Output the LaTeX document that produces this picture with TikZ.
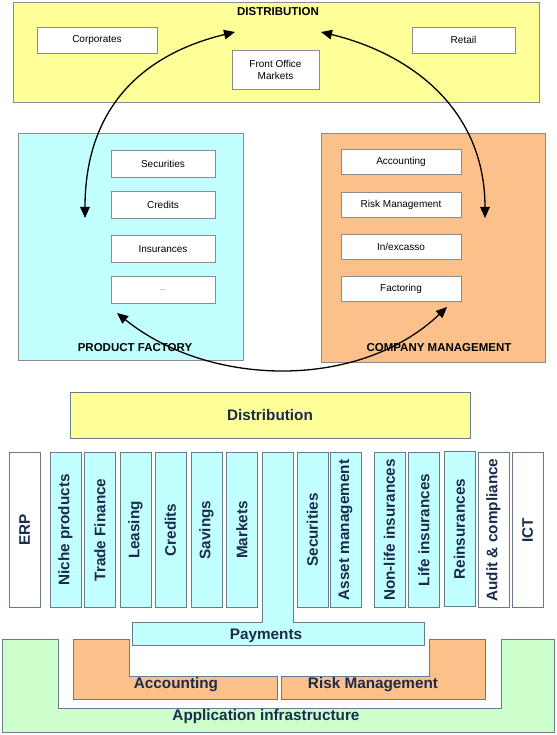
\documentclass[tikz,border=0pt]{standalone}
\usepackage{fontspec}
\setmainfont{Liberation Sans}
\usetikzlibrary{arrows.meta}
\definecolor{yel}{HTML}{FFFF99}
\definecolor{cya}{HTML}{C2FFFF}
\definecolor{ora}{HTML}{FCC18A}
\definecolor{gre}{HTML}{CCFFCC}
\definecolor{bordtop}{HTML}{8C8C8C}
\definecolor{bordbot}{HTML}{6A7A8C}
\definecolor{navy}{HTML}{1A2C4E}
\tikzset{
  bigbox/.style={draw=bordtop, line width=0.9pt, inner sep=0pt},
  smallbox/.style={draw=bordtop, fill=white, line width=0.9pt, inner sep=0pt, font=\fontsize{10}{11}\selectfont, align=center},
  heading/.style={font=\bfseries\fontsize{11.5}{13}\selectfont, inner sep=0pt},
  col/.style={draw=bordbot, line width=0.9pt, rotate=90, minimum width=155pt, minimum height=31pt, inner sep=0pt, text=navy, font=\bfseries\fontsize{15.3}{17}\selectfont},
  botlabel/.style={text=navy, font=\bfseries\fontsize{15.3}{17}\selectfont, inner sep=0pt},
  botshape/.style={draw=bordbot, line width=0.9pt},
  arc/.style={line width=1.3pt, {Triangle[length=11pt,width=9.5pt]}-{Triangle[length=11pt,width=9.5pt]}}
}
\begin{document}
\begin{tikzpicture}[x=1pt,y=-1pt]
\useasboundingbox (0,0) rectangle (556,735);
% ---------- top part ----------
\node[bigbox, fill=yel, minimum width=526pt, minimum height=100pt] (dist) at (276,52) {};
\node[heading, font=\bfseries\fontsize{11.5}{13}\selectfont] (distlab) at (278,12) {DISTRIBUTION};
\node[smallbox, minimum width=120pt, minimum height=26pt] (corp) at (97,40) {Corporates};
\node[smallbox, minimum width=87pt, minimum height=39pt] (fom) at (275.5,69.5) {Front Office\\[1pt]Markets};
\node[smallbox, minimum width=103pt, minimum height=26pt] (retail) at (463.5,40) {Retail};

\node[bigbox, fill=cya, minimum width=225pt, minimum height=227pt] (pf) at (130.5,246.5) {};
\node[smallbox, minimum width=104pt, minimum height=27pt] (psec) at (163,163.5) {Securities};
\node[smallbox, minimum width=104pt, minimum height=27pt] (pcred) at (163,205) {Credits};
\node[smallbox, minimum width=104pt, minimum height=27pt] (pins) at (163,249) {Insurances};
\node[smallbox, minimum width=104pt, minimum height=27pt] (pdots) at (163,290) {\fontsize{7}{8}\selectfont\textcolor{black!70}{...}};
\node[heading] (pflab) at (135,348) {PRODUCT FACTORY};

\node[bigbox, fill=ora, minimum width=224pt, minimum height=229pt] (cm) at (433,247.5) {};
\node[smallbox, minimum width=120pt, minimum height=25pt] (cacc) at (401,162) {Accounting};
\node[smallbox, minimum width=120pt, minimum height=25pt] (crisk) at (401,204.5) {Risk Management};
\node[smallbox, minimum width=120pt, minimum height=25pt] (cinex) at (401,247) {In/excasso};
\node[smallbox, minimum width=120pt, minimum height=25pt] (cfact) at (401,288.5) {Factoring};
\node[heading] (cmlab) at (439,348) {COMPANY MANAGEMENT};

% arrow end points
\coordinate (a1) at (235,32);
\coordinate (a2) at (85,218);
\coordinate (b1) at (321,32);
\coordinate (b2) at (485,218);
\coordinate (c1) at (117,313);
\coordinate (c2) at (447,307);
\draw[arc] (a1) .. controls (140,55) and (85,110) .. (a2);
\draw[arc] (b1) .. controls (412,54) and (485,110) .. (b2);
\draw[arc] (c1) .. controls (210,388) and (360,390) .. (c2);

% ---------- bottom part ----------
\node[botshape, fill=yel, minimum width=400pt, minimum height=46pt, inner sep=0pt] (bdist) at (270,415) {};
\node[botlabel] (bdistlab) at (270,415) {Distribution};

\node[col, fill=white] (erp) at (24.5,530) {ERP};
\node[col, fill=cya] (niche) at (65.5,530) {Niche products};
\node[col, fill=cya] (trade) at (100,530) {Trade Finance};
\node[col, fill=cya] (leas) at (135.5,530) {Leasing};
\node[col, fill=cya] (cred) at (170.5,530) {Credits};
\node[col, fill=cya] (sav) at (206.5,530) {Savings};
\node[col, fill=cya] (mark) at (242,530) {Markets};
\node[col, fill=cya] (secu) at (312.5,530) {Securities};
\node[col, fill=cya] (asset) at (345.5,530) {Asset management};
\node[col, fill=cya] (nonlife) at (389.5,530) {Non-life insurances};
\node[col, fill=cya] (life) at (424,530) {Life insurances};
\node[col, fill=cya] (reins) at (459.5,529) {Reinsurances};
\node[col, fill=white] (audit) at (493.5,530) {Audit \& compliance};
\node[col, fill=white] (ict) at (527.5,530) {ICT};

% payments T-shape
\draw[botshape, fill=cya] (262,452) -- (293,452) -- (293,622) -- (424,622) -- (424,645)
  -- (132,645) -- (132,622) -- (262,622) -- cycle;
\node[botlabel] (paylab) at (266,636) {Payments};

% application infrastructure
\draw[botshape, fill=gre] (2,639) -- (58,639) -- (58,708) -- (501,708) -- (501,639)
  -- (554,639) -- (554,732) -- (2,732) -- cycle;
\node[botlabel] (applab) at (266,717) {Application infrastructure};

% accounting / risk management
\draw[botshape, fill=ora] (73,639) -- (129,639) -- (129,676) -- (277,676) -- (277,699) -- (73,699) -- cycle;
\node[botlabel] (acclab) at (176,685) {Accounting};
\draw[botshape, fill=ora] (281,676) -- (429,676) -- (429,639) -- (485,639) -- (485,699) -- (281,699) -- cycle;
\node[botlabel] (risklab) at (373,685) {Risk Management};
\end{tikzpicture}
\end{document}
